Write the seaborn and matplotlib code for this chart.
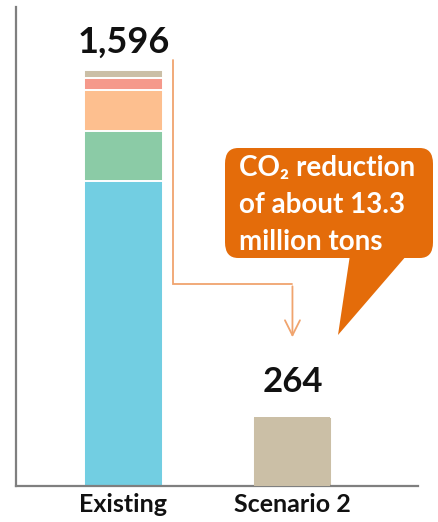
import matplotlib
matplotlib.use("Agg")
import matplotlib.pyplot as plt
from matplotlib.patches import FancyBboxPatch, Polygon
import seaborn as sns
import numpy as np

# Emission data (thousand tons CO2)
categories = ["Existing", "Scenario 2"]
existing_parts = [1170, 192, 158, 44, 32]          # bottom to top
part_colors = ["#72CEE2", "#8BCBA6", "#FDBF8F", "#F5998B", "#CBBFA6"]
scenario_value = 264
callout_lines = ["CO\u2082 reduction", "of about 13.3", "million tons"]

sns.set_theme(style="white")
plt.rcParams["font.family"] = ["Lato", "DejaVu Sans"]

W, H = 438, 522
fig = plt.figure(figsize=(W / 100, H / 100), dpi=100)
ax = fig.add_axes([16 / W, 36 / H, 402 / W, 479 / H])

existing_total = int(np.sum(existing_parts))
cum = np.cumsum(existing_parts)

# Stacked bar drawn as overlaid cumulative bars, tallest first
for i in range(len(existing_parts) - 1, -1, -1):
    vals = [cum[i], scenario_value if i == len(existing_parts) - 1 else 0]
    sns.barplot(x=categories, y=vals, order=categories, color=part_colors[i],
                width=0.47, edgecolor="white", linewidth=1.4, saturation=1,
                ax=ax, zorder=2)

# Scenario bar without the white outline
sns.barplot(x=categories, y=[0, scenario_value], order=categories,
            color=part_colors[-1], width=0.45, linewidth=0, saturation=1,
            ax=ax, zorder=3)

ax.set_xlim(-0.636, 1.743)
ax.set_ylim(0, 1838)
ax.set_yticks([])
ax.set_xlabel("")
ax.set_ylabel("")
for s in ["top", "right"]:
    ax.spines[s].set_visible(False)
for s in ["left", "bottom"]:
    ax.spines[s].set_color("#7F7F7F")
    ax.spines[s].set_linewidth(1.6)
ax.tick_params(axis="x", length=0, pad=5)
for lab in ax.get_xticklabels():
    lab.set_fontsize(18)
    lab.set_fontweight("bold")
    lab.set_color("#111111")

# Value labels
ax.text(0, existing_total + 65, f"{existing_total:,}", ha="center", va="baseline",
        fontsize=26, fontweight="bold", color="#111111")
ax.text(1, scenario_value + 97, f"{scenario_value:,}", ha="center", va="baseline",
        fontsize=25, fontweight="bold", color="#111111")

# Connector arrow from the existing total down to the scenario
arrow_c = "#F0A46E"
x0, x1 = 0.293, 1.0
y_top, y_mid, y_tip = 1634, 775, 560
ax.plot([x0, x0, x1], [y_top, y_mid, y_mid], color=arrow_c, lw=1.3,
        solid_joinstyle="miter", zorder=4)
ax.annotate("", xy=(x1, y_tip), xytext=(x1, y_mid + 2),
            arrowprops=dict(arrowstyle="->,head_length=0.9,head_width=0.45",
                            color=arrow_c, lw=1.3), zorder=4)

# Speech-bubble callout
def fx(px):
    return px / W

def fy(py):
    return 1 - py / H

orange = "#E46C0A"
box = FancyBboxPatch((fx(225), fy(258)), fx(433) - fx(225), fy(148) - fy(258),
                     boxstyle="round,pad=0,rounding_size=0.03",
                     transform=fig.transFigure, facecolor=orange,
                     edgecolor="none", zorder=5)
fig.patches.append(box)
tail = Polygon([(fx(350), fy(255)), (fx(407), fy(255)), (fx(338), fy(335))],
               closed=True, transform=fig.transFigure, facecolor=orange,
               edgecolor="none", zorder=5)
fig.patches.append(tail)
for k, line in enumerate(callout_lines):
    fig.text(fx(239), fy(168 + 37 * k), line, ha="left", va="center",
             fontsize=20, fontweight="bold", color="white", zorder=6)

fig.savefig("out.png", dpi=100, facecolor="white")
